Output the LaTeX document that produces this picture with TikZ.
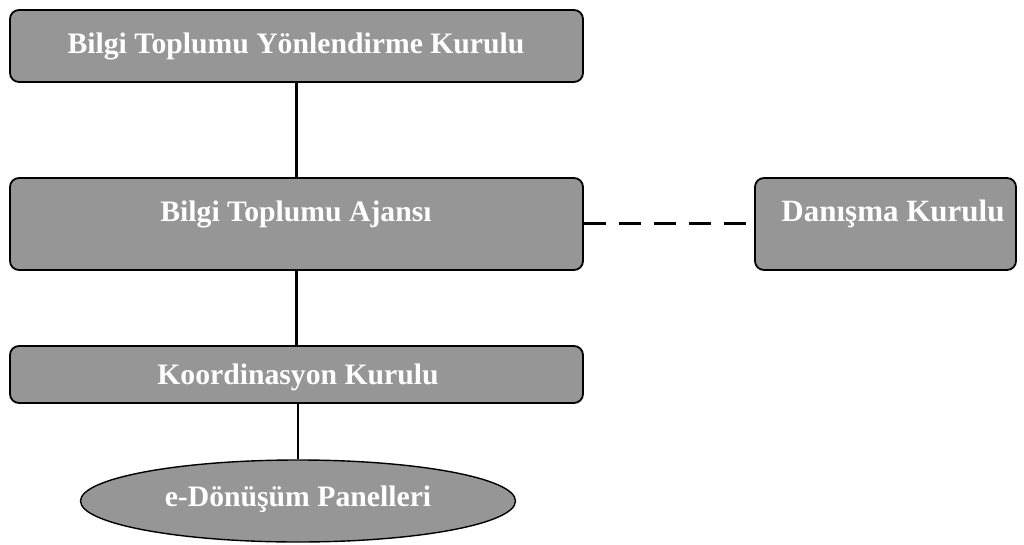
\documentclass[tikz,border=0pt]{standalone}
\usepackage{fontspec}
\setmainfont{Liberation Serif}
\usetikzlibrary{shapes.geometric}
\definecolor{boxgray}{HTML}{969696}
\begin{document}
\begin{tikzpicture}[x=1pt,y=-1pt,
  rbox/.style={draw=black,line width=1.8pt,fill=boxgray,rounded corners=9pt,inner sep=0pt},
  lbl/.style={text=white,font=\bfseries\fontsize{29.7}{34}\selectfont,inner sep=0pt},
  conn/.style={line width=3pt}]
\useasboundingbox (0,0) rectangle (1024,545);
\node[rbox,minimum width=573pt,minimum height=72pt] (yk) at (296.5,46) {};
\node[lbl] at (296,46) {Bilgi Toplumu Yönlendirme Kurulu};
\node[rbox,minimum width=573pt,minimum height=92pt] (aj) at (296.5,224) {};
\node[lbl] at (296,214) {Bilgi Toplumu Ajansı};
\node[rbox,minimum width=261pt,minimum height=92pt] (dk) at (885.5,224) {};
\node[lbl,font=\bfseries\fontsize{31}{36}\selectfont] at (893,214) {Danışma Kurulu};
\node[rbox,minimum width=573pt,minimum height=57pt] (kk) at (296.5,374.5) {};
\node[lbl] at (298,377) {Koordinasyon Kurulu};
\node[draw=black,line width=1.4pt,fill=boxgray,ellipse,minimum width=435pt,minimum height=82pt,inner sep=0pt] (ep) at (298,501) {};
\node[lbl] at (298,499) {e-Dönüşüm Panelleri};
\draw[conn] (yk.south -| 296,0) -- (aj.north -| 296,0);
\draw[conn] (aj.south -| 296,0) -- (kk.north -| 296,0);
\draw[line width=1.8pt] (kk.south -| 298,0) -- (ep.north);
\draw[conn,dash pattern=on 22pt off 13pt] (aj.east) -- (dk.west);
\end{tikzpicture}
\end{document}
